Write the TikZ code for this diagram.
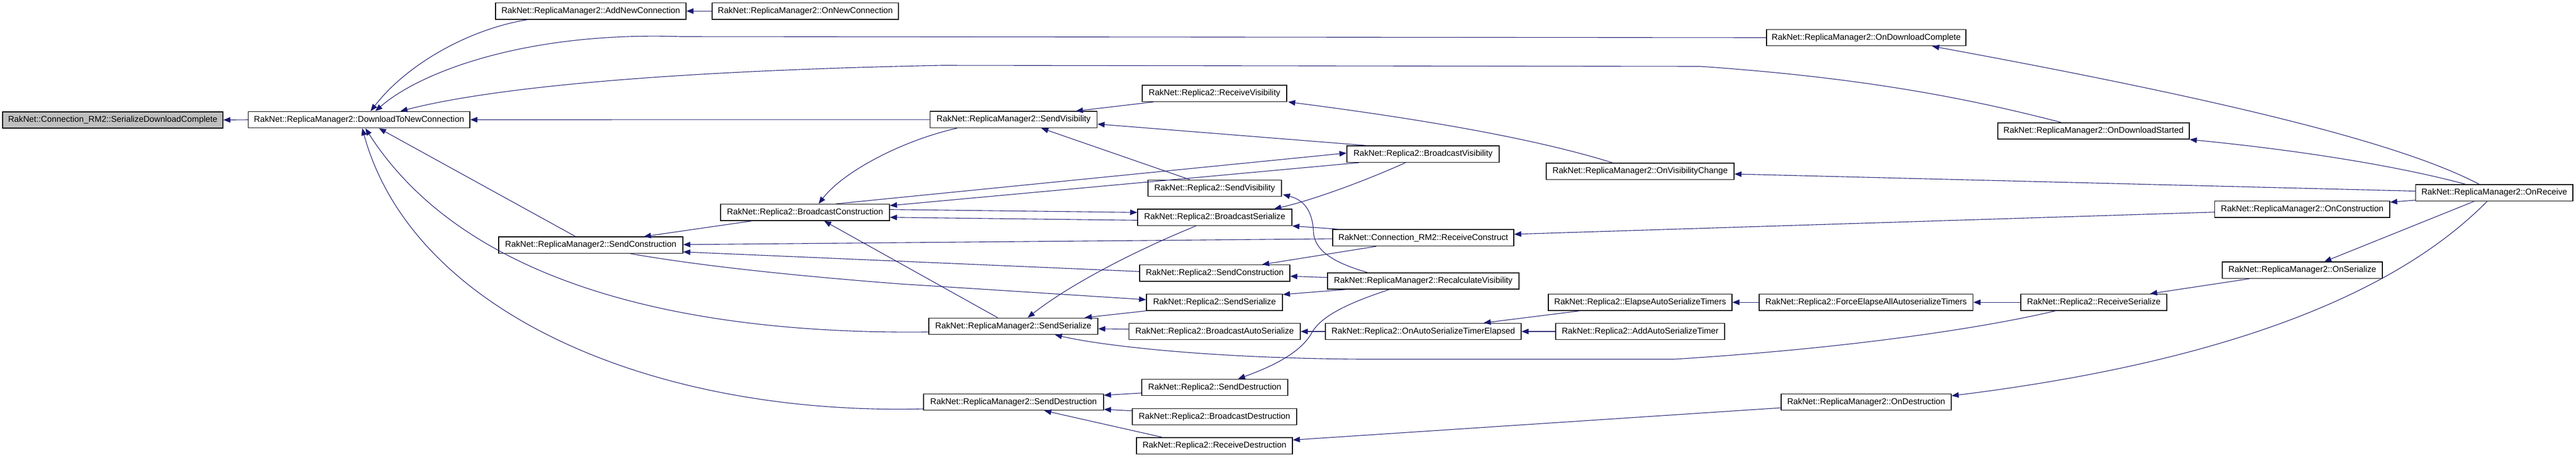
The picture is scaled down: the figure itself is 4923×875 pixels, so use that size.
\documentclass[tikz,border=0pt]{standalone}
\usepackage{fontspec}
\setmainfont{Liberation Sans}
\usetikzlibrary{arrows.meta,calc}
\definecolor{edgeblue}{HTML}{191970}
\definecolor{focusgray}{HTML}{BFBFBF}
\tikzset{
  box/.style={draw=black,line width=0.3mm,rectangle,inner sep=0pt,minimum height=31.3*0.2mm,
    font=\fontsize{9.2}{11}\selectfont,fill=white},
  focus/.style={box,fill=focusgray},
  edge/.style={draw=edgeblue,line width=0.22mm,-{Triangle[length=2.7mm,width=2.1mm]}},
}
\newcommand\mkbox[6][box]{\node[#1,minimum width=#5*0.2mm] (#2) at (#3,#4) {#6};}
\begin{document}
\begin{tikzpicture}[x=0.2mm,y=-0.2mm]
\useasboundingbox (0,0) rectangle (4923,875);
% nodes
\mkbox[focus]{n0}{215.5}{229.4}{421}{RakNet::Connection\_RM2::SerializeDownloadComplete}
\mkbox{DTNC}{686.25}{229}{423.5}{RakNet::ReplicaManager2::DownloadToNewConnection}
\mkbox{ANC}{1129}{21.2}{364}{RakNet::ReplicaManager2::AddNewConnection}
\mkbox{ONC}{1539}{21.2}{356}{RakNet::ReplicaManager2::OnNewConnection}
\mkbox{ODC}{3566.5}{72}{381}{RakNet::ReplicaManager2::OnDownloadComplete}
\mkbox{ODS}{4001}{250.5}{366}{RakNet::ReplicaManager2::OnDownloadStarted}
\mkbox{OR}{4766.8}{368.8}{300.4}{RakNet::ReplicaManager2::OnReceive}
\mkbox{RV}{2321}{178.6}{276}{RakNet::Replica2::ReceiveVisibility}
\mkbox{RMSV}{1937.1}{228.8}{319.2}{RakNet::ReplicaManager2::SendVisibility}
\mkbox{BV}{2719.5}{294.7}{291}{RakNet::Replica2::BroadcastVisibility}
\mkbox{OVC}{3134.5}{327.8}{359}{RakNet::ReplicaManager2::OnVisibilityChange}
\mkbox{RSV}{2321.5}{360}{255}{RakNet::Replica2::SendVisibility}
\mkbox{BC}{1538.5}{406.2}{323}{RakNet::Replica2::BroadcastConstruction}
\mkbox{BS}{2321.5}{415.8}{295}{RakNet::Replica2::BroadcastSerialize}
\mkbox{RC}{2720}{454.8}{346}{RakNet::Connection\_RM2::ReceiveConstruct}
\mkbox{OC}{4399.75}{400.1}{334.5}{RakNet::ReplicaManager2::OnConstruction}
\mkbox{RMSC}{1129}{468.8}{352}{RakNet::ReplicaManager2::SendConstruction}
\mkbox{RSC}{2321.5}{522.3}{287}{RakNet::Replica2::SendConstruction}
\mkbox{RCV}{2720}{537.4}{366}{RakNet::ReplicaManager2::RecalculateVisibility}
\mkbox{OS}{4400}{516.8}{306}{RakNet::ReplicaManager2::OnSerialize}
\mkbox{RSS}{2321}{578.2}{260}{RakNet::Replica2::SendSerialize}
\mkbox{RMSS}{1936.5}{623.9}{323}{RakNet::ReplicaManager2::SendSerialize}
\mkbox{BAS}{2321.25}{634}{327.5}{RakNet::Replica2::BroadcastAutoSerialize}
\mkbox{EAST}{3134.5}{578.2}{351}{RakNet::Replica2::ElapseAutoSerializeTimers}
\mkbox{FEAT}{3566.3}{578.2}{408.6}{RakNet::Replica2::ForceElapseAllAutoserializeTimers}
\mkbox{RS}{4001.5}{578.2}{279}{RakNet::Replica2::ReceiveSerialize}
\mkbox{OASTE}{2720}{634}{374}{RakNet::Replica2::OnAutoSerializeTimerElapsed}
\mkbox{AAST}{3134.5}{634}{323}{RakNet::Replica2::AddAutoSerializeTimer}
\mkbox{RMSD}{1937}{769}{344}{RakNet::ReplicaManager2::SendDestruction}
\mkbox{RSD}{2321.5}{741}{279}{RakNet::Replica2::SendDestruction}
\mkbox{BD}{2321}{797}{314}{RakNet::Replica2::BroadcastDestruction}
\mkbox{RD}{2321}{852.7}{298}{RakNet::Replica2::ReceiveDestruction}
\mkbox{OD}{3566.5}{769}{325}{RakNet::ReplicaManager2::OnDestruction}
% edges
\draw[edge] (DTNC.west) -- (n0.east);
\draw[edge] ($(ANC.south west)+(62,0)$) .. controls (900,55) and (780,120) .. ($(DTNC.north)+(22,0)$);
\draw[edge] (ONC.west) -- (ANC.east);
\draw[edge] (ODC.west) -- (1300,70) .. controls (1000,60) and (800,140) .. ($(DTNC.north)+(31,0)$);
\draw[edge] ($(ODS.north)+(-62,0)$) .. controls (3750,185) and (3550,148) .. (3250,127) -- (1800,125) .. controls (1300,135) and (950,165) .. ($(DTNC.north)+(79,0)$);
\draw[edge] (RMSV.west) -- (DTNC.east);
\draw[edge] ($(RMSC.north)+(-29,0)$) -- ($(DTNC.south)+(38,0)$);
\draw[edge] ($(RMSS.west)+(0,11)$) .. controls (1350,640) and (900,560) .. ($(DTNC.south)+(12,0)$);
\draw[edge] ($(RMSD.west)+(0,13)$) .. controls (1250,795) and (790,600) .. ($(DTNC.south)+(6,0)$);
\draw[edge] ($(BC.south)+(-101.5,0)$) -- ($(RMSC.north)+(101.5,0)$);
\draw[edge] ($(RC.west)+(0,2)$) -- ($(RMSC.east)+(0,-1)$);
\draw[edge] ($(RSC.west)+(0,-3)$) -- ($(RMSC.east)+(0,13)$);
\draw[edge] ($(RMSC.south)+(76,0)$) .. controls (1330,507) and (1500,526) .. (1720,543) -- ($(RSS.west)+(0,-5)$);
\draw[edge] ($(RMSV.south west)+(52,0)$) .. controls (1720,270) and (1610,330) .. ($(BC.north)+(26,0)$);
\draw[edge] ($(BC.north)+(59.5,0)$) -- ($(BV.west)+(0,-2)$);
\draw[edge] ($(BV.south west)+(24,0)$) -- ($(BC.east)+(0,-13)$);
\draw[edge] ($(BC.east)+(0,-5.5)$) -- ($(BS.west)+(0,-9.5)$);
\draw[edge] ($(BS.west)+(0,5.5)$) -- ($(BC.east)+(0,9.5)$);
\draw[edge] ($(RMSS.north)+(-30,0)$) -- ($(BC.south)+(36.5,0)$);
\draw[edge] ($(RV.south west)+(22,0)$) -- ($(RMSV.north)+(119,0)$);
\draw[edge] ($(BV.north west)+(38,0)$) -- ($(RMSV.east)+(0,8.5)$);
\draw[edge] ($(RSV.north)+(-47.5,0)$) -- ($(RMSV.south)+(53,0)$);
\draw[edge] ($(OVC.north)+(-52.5,0)$) .. controls (2950,270) and (2750,232) .. ($(RV.south east)+(2,0)$);
\draw[edge] ($(BV.south)+(-33.5,0)$) .. controls (2600,350) and (2500,385) .. ($(BS.north)+(113.5,0)$);
\draw[edge] ($(RCV.north)+(-107,0)$) .. controls (2540,500) and (2510,475) .. (2510,440) .. controls (2507,400) and (2490,382) .. ($(RSV.east)+(2,12)$);
\draw[edge] ($(RC.north west)+(13,0)$) -- (BS.south east);
\draw[edge] ($(RC.south)+(-90,0)$) -- ($(RSC.north)+(90.5,0)$);
\draw[edge] ($(RCV.west)+(0,-6.7)$) -- ($(RSC.east)+(0,6)$);
\draw[edge] ($(RCV.south west)+(34.7,0)$) -- ($(RSS.east)+(0,-15)$);
\draw[edge] ($(RCV.south)+(-65,0)$) .. controls (2560,585) and (2520,610) .. (2505,640) .. controls (2480,680) and (2420,705) .. ($(RSD.north)+(44.5,0)$);
\draw[edge] (RSS.south west) -- ($(RMSS.north)+(136.5,0)$);
\draw[edge] ($(BAS.west)+(0,-4.5)$) -- ($(RMSS.east)+(0,5)$);
\draw[edge] ($(BS.south)+(-36,0)$) .. controls (2180,475) and (2050,540) .. ($(RMSS.north)+(27.5,0)$);
\draw[edge] ($(RS.south)+(-73.5,0)$) .. controls (3800,625) and (3550,665) .. (3200,687) -- (2600,687) .. controls (2300,685) and (2100,660) .. ($(RMSS.south)+(79.5,0)$);
\draw[edge] (OASTE.west) -- (BAS.east);
\draw[edge] ($(EAST.south)+(-115.5,0)$) -- ($(OASTE.north)+(115.5,0)$);
\draw[edge] (AAST.west) -- (OASTE.east);
\draw[edge] (FEAT.west) -- (EAST.east);
\draw[edge] (RS.west) -- (FEAT.east);
\draw[edge] ($(OS.south)+(-101.5,0)$) -- ($(RS.north)+(107.5,0)$);
\draw[edge] ($(OR.south)+(-38.8,0)$) -- ($(OS.north)+(42,0)$);
\draw[edge] ($(OR.west)+(0,14)$) -- ($(OC.north east)+(0,3)$);
\draw[edge] ($(OR.north)+(-54.8,0)$) .. controls (4600,322) and (4420,290) .. (ODS.south east);
\draw[edge] ($(OR.north)+(-28.8,0)$) .. controls (4600,280) and (4300,200) .. ($(ODC.south)+(126,0)$);
\draw[edge] ($(OR.south)+(-13.8,0)$) .. controls (4620,520) and (4350,680) .. ($(OD.east)+(0,-12)$);
\draw[edge] ($(OR.west)+(0,-3.3)$) -- ($(OVC.east)+(0,5)$);
\draw[edge] ($(OC.west)+(0,5.6)$) -- ($(RC.east)+(0,-6.8)$);
\draw[edge] ($(OD.west)+(0,11)$) -- ($(RD.east)+(0,-11.2)$);
\draw[edge] ($(RSD.west)+(0,10.7)$) -- ($(RMSD.east)+(0,-13)$);
\draw[edge] ($(BD.west)+(0,-11.3)$) -- ($(RMSD.east)+(0,14)$);
\draw[edge] ($(RD.north west)+(50,0)$) -- ($(RMSD.south)+(58.6,0)$);
\end{tikzpicture}
\end{document}
